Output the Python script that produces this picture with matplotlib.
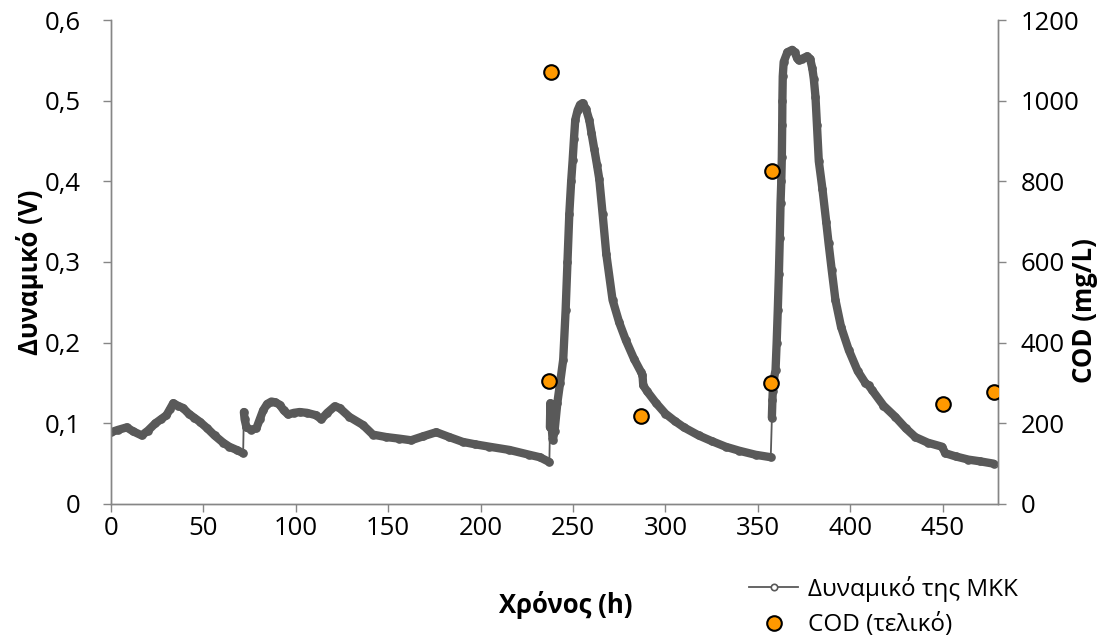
import matplotlib
matplotlib.use("Agg")
import matplotlib.pyplot as plt
from matplotlib.lines import Line2D
from matplotlib.ticker import FuncFormatter, MultipleLocator

plt.rcParams['font.family'] = ['Open Sans', 'DejaVu Sans']

# cell potential (V); one array pair per feeding cycle
t_c1 = [0, 4, 8.5, 12, 16.6, 20, 24, 27, 30, 32, 33.7, 36, 39, 42, 45, 48, 52,
        56, 60.7, 64, 68, 71.5]
v_c1 = [0.089, 0.092, 0.095, 0.090, 0.085, 0.091, 0.100, 0.105, 0.110, 0.118,
        0.125, 0.122, 0.119, 0.112, 0.107, 0.102, 0.094, 0.085, 0.076, 0.071,
        0.067, 0.063]

t_c2 = [71.9, 72.3, 73.3, 76, 78.7, 80.5, 82.3, 84.5, 86.8, 89, 91.3, 93.5,
        95.8, 99, 102, 106, 111, 113.8, 117, 121, 123.7, 129, 136.3, 141.7,
        148.9, 156, 162.4, 169, 176, 183, 190.3, 197, 204.8, 215.6, 226.4,
        232, 237.2]
v_c2 = [0.114, 0.105, 0.095, 0.092, 0.094, 0.105, 0.116, 0.124, 0.127, 0.126,
        0.123, 0.116, 0.111, 0.113, 0.114, 0.113, 0.110, 0.105, 0.113, 0.121,
        0.119, 0.108, 0.098, 0.086, 0.083, 0.081, 0.079, 0.084, 0.089, 0.083,
        0.077, 0.074, 0.071, 0.067, 0.061, 0.058, 0.052]

t_c3 = [237.5, 237.6, 237.7, 237.8, 238.3, 239, 240, 241.5, 243, 244.7, 246,
        247, 248, 249, 249.8, 250.5, 251.2, 252.5, 253.8, 255.2, 257, 258.8,
        260, 261.5, 263, 264.2, 266, 268, 271.4, 275, 278.6, 283, 286.7,
        287.6, 288, 290, 295, 300, 305, 310, 318, 325, 332.6, 340, 348.8, 357]
v_c3 = [0.095, 0.107, 0.119, 0.125, 0.100, 0.079, 0.090, 0.125, 0.150, 0.179,
        0.240, 0.300, 0.360, 0.400, 0.426, 0.452, 0.476, 0.488, 0.495, 0.497,
        0.490, 0.476, 0.460, 0.440, 0.420, 0.403, 0.360, 0.310, 0.253, 0.225,
        0.203, 0.180, 0.164, 0.160, 0.147, 0.140, 0.125, 0.112, 0.103, 0.095,
        0.085, 0.078, 0.071, 0.066, 0.061, 0.058]

t_c4 = [357.6, 357.9, 358.1, 358.3, 359.6, 360.2, 360.8, 361.4, 361.9, 362.3,
        362.7, 363.0, 363.2, 363.3, 363.5, 364, 366, 368.6, 370, 371.2, 372.2,
        374, 376.7, 378.3, 379.5, 380.3, 381.2, 382, 383, 385, 387, 388.3, 390,
        392, 395, 399.2, 404, 408.2, 410, 411.9, 418, 424.4, 430, 435.2, 442,
        449.7, 451.4, 457, 464, 470, 477.6]
v_c4 = [0.107, 0.129, 0.140, 0.150, 0.166, 0.200, 0.240, 0.285, 0.330, 0.373,
        0.400, 0.430, 0.470, 0.500, 0.530, 0.548, 0.560, 0.563, 0.560, 0.553,
        0.550, 0.552, 0.555, 0.552, 0.540, 0.527, 0.505, 0.470, 0.425, 0.390,
        0.350, 0.323, 0.290, 0.253, 0.220, 0.191, 0.165, 0.150, 0.147, 0.141,
        0.122, 0.108, 0.094, 0.083, 0.076, 0.071, 0.063, 0.059, 0.055, 0.053,
        0.050]

# final COD (mg/L), right axis
cod_t = [237.2, 238.0, 286.7, 357.3, 357.6, 450.2, 477.6]
cod_v = [306, 1072, 218, 299, 826, 248, 277]

GRAY = "#595959"
SPINE = "#868686"
FS = 18.5

fig = plt.figure(figsize=(10.97, 6.37), dpi=100)
ax = fig.add_axes([0.1012, 0.2088, 0.8086, 0.7598])
ax2 = ax.twinx()

cycles = [(t_c1, v_c1), (t_c2, v_c2), (t_c3, v_c3), (t_c4, v_c4)]
t_all = t_c1 + t_c2 + t_c3 + t_c4
v_all = v_c1 + v_c2 + v_c3 + v_c4

# thick band (overlapping markers in the original), thin jumps between cycles
for tt, vv in cycles:
    ax.plot(tt, vv, color=GRAY, lw=6.0, solid_capstyle="round",
            solid_joinstyle="round", zorder=2)
ax.plot(t_all, v_all, color=GRAY, lw=1.3, marker="o", ms=5,
        mfc="none", mec=GRAY, mew=1.2, zorder=3)

ax2.plot(cod_t, cod_v, ls="none", marker="o", ms=10.5, mfc="#FF9900",
         mec="black", mew=1.5, zorder=5)

ax.set_xlim(0, 480)
ax.set_ylim(0, 0.6)
ax2.set_ylim(0, 1200)
ax.set_xticks(range(0, 451, 50))
ax.yaxis.set_major_locator(MultipleLocator(0.1))
ax2.yaxis.set_major_locator(MultipleLocator(200))
ax.yaxis.set_major_formatter(FuncFormatter(
    lambda v, p: "0" if abs(v) < 1e-9 else f"{v:.1f}".replace(".", ",")))

for a in (ax, ax2):
    a.spines["top"].set_visible(False)
    for s in ("left", "right", "bottom"):
        a.spines[s].set_color(SPINE)
        a.spines[s].set_linewidth(1.0)
ax.tick_params(axis="y", direction="out", length=6, width=1, color=SPINE,
               labelsize=FS, pad=16)
ax.tick_params(axis="x", direction="out", length=6, width=1, color=SPINE,
               labelsize=FS, pad=3)
ax2.tick_params(axis="y", direction="out", length=6, width=1, color=SPINE,
                labelsize=FS, pad=10)

ax.set_ylabel("Δυναμικό (V)", fontsize=FS, fontweight="bold")
ax.yaxis.set_label_coords(-0.0913, 0.479)
ax2.set_ylabel("COD (mg/L)", fontsize=FS, fontweight="bold", rotation=90)
ax2.yaxis.set_label_coords(1.098, 0.40)
ax.set_xlabel("Χρόνος (h)", fontsize=FS, fontweight="bold")
ax.xaxis.set_label_coords(0.513, -0.209)
ax.xaxis.label.set_va("center")
ax.yaxis.label.set_va("center")
ax2.yaxis.label.set_va("center")

handles = [
    Line2D([], [], color=GRAY, lw=1.3, marker="o", ms=4.6, mfc="white",
           mec=GRAY, mew=1.2),
    Line2D([], [], ls="none", marker="o", ms=10.5, mfc="#FF9900", mec="black",
           mew=1.5),
]
fig.legend(handles, ["Δυναμικό της ΜΚΚ", "COD (τελικό)"], loc="upper left",
           bbox_to_anchor=(0.683, 0.096), frameon=False, fontsize=17.5,
           handlelength=2.0, handletextpad=0.4, labelspacing=0.47,
           borderaxespad=0, borderpad=0)

fig.savefig("out.png", dpi=100)
